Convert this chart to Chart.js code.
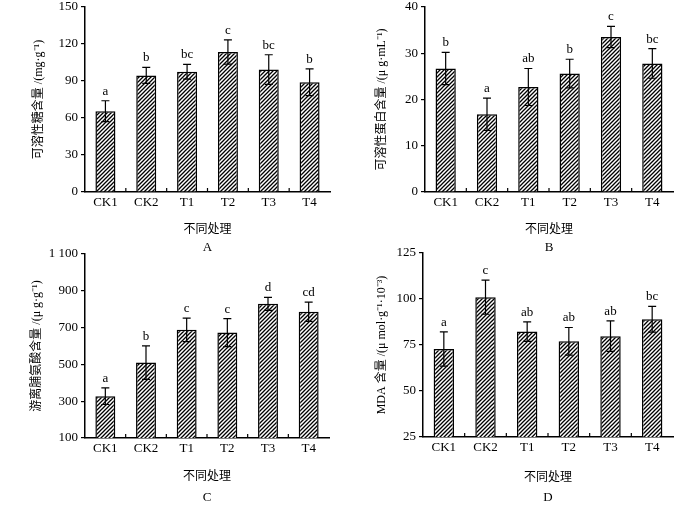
<!DOCTYPE html>
<html>
<head>
<meta charset="utf-8">
<script src="https://cdn.jsdelivr.net/npm/chart.js@4.4.1/dist/chart.umd.min.js"></script>
<style>
  body { margin: 0; background: #fff; }
  #wrap { position: relative; width: 700px; height: 505px; overflow: hidden; background: #fff; }
  canvas { position: absolute; }
</style>
</head>
<body>
<div id="wrap">
  <canvas id="chartA" width="350" height="255" style="left:0;top:0"></canvas>
  <canvas id="chartB" width="350" height="255" style="left:350px;top:0"></canvas>
  <canvas id="chartC" width="350" height="258" style="left:0;top:247px"></canvas>
  <canvas id="chartD" width="350" height="258" style="left:350px;top:247px"></canvas>
</div>
<script>
const categories = ['CK1', 'CK2', 'T1', 'T2', 'T3', 'T4'];

const sugarMean = [65.5, 94.5, 97.5, 113.5, 99.3, 89.0];
const sugarErr = [8.5, 6.5, 6.0, 9.8, 12.0, 10.8];
const sugarLetters = ['a', 'b', 'bc', 'c', 'bc', 'b'];
const sugarTicks = [0, 30, 60, 90, 120, 150];

const proteinMean = [26.7, 16.8, 22.7, 25.6, 33.5, 27.8];
const proteinErr = [3.5, 3.5, 4.0, 3.1, 2.3, 3.2];
const proteinLetters = ['b', 'a', 'ab', 'b', 'c', 'bc'];
const proteinTicks = [0, 10, 20, 30, 40];

const prolineMean = [327, 510, 688, 673, 829, 786];
const prolineErr = [45, 91, 64, 76, 35, 52];
const prolineLetters = ['a', 'b', 'c', 'c', 'd', 'cd'];
const prolineTicks = [100, 300, 500, 700, 900, 1100];

const mdaMean = [72.8, 101.0, 82.3, 77.0, 79.8, 89.0];
const mdaErr = [9.3, 9.3, 5.3, 7.5, 8.3, 7.0];
const mdaLetters = ['a', 'c', 'ab', 'ab', 'ab', 'bc'];
const mdaTicks = [25, 50, 75, 100, 125];

const SERIF = "'Liberation Serif', 'Times New Roman', serif";
const MIXED = "'Liberation Serif', 'Noto Sans CJK SC', serif";
const CJK = "'Noto Sans CJK SC', sans-serif";

function hatchPattern(ctx) {
    const c = document.createElement('canvas');
    c.width = 4;
    c.height = 4;
    const g = c.getContext('2d');
    g.fillStyle = '#fff';
    g.fillRect(0, 0, 4, 4);
    g.strokeStyle = '#000';
    g.lineWidth = 1.3;
    g.beginPath();
    g.moveTo(0, 4); g.lineTo(4, 0);
    g.moveTo(-1, 1); g.lineTo(1, -1);
    g.moveTo(3, 5); g.lineTo(5, 3);
    g.stroke();
    return ctx.createPattern(c, 'repeat');
}

// error bars, significance letters and the small inner ticks on the x axis
const errorBars = {
    id: 'errorBars',
    afterDatasetsDraw(chart, args, opts) {
        const { ctx, scales: { x, y } } = chart;
        const means = chart.data.datasets[0].data;
        const meta = chart.getDatasetMeta(0);
        ctx.save();
        ctx.strokeStyle = '#000';
        ctx.lineWidth = 1.2;
        ctx.fillStyle = '#000';
        ctx.font = '13px ' + SERIF;
        ctx.textAlign = 'center';
        ctx.textBaseline = 'bottom';
        meta.data.forEach((bar, i) => {
            const top = y.getPixelForValue(means[i] + opts.errs[i]);
            const bot = y.getPixelForValue(means[i] - opts.errs[i]);
            ctx.beginPath();
            ctx.moveTo(bar.x, top); ctx.lineTo(bar.x, bot);
            ctx.moveTo(bar.x - 4, top); ctx.lineTo(bar.x + 4, top);
            ctx.moveTo(bar.x - 4, bot); ctx.lineTo(bar.x + 4, bot);
            ctx.stroke();
            ctx.fillText(opts.letters[i], bar.x, top - 3);
        });
        ctx.beginPath();
        for (let i = 1; i < means.length; i++) {
            const px = (x.getPixelForValue(i - 1) + x.getPixelForValue(i)) / 2;
            ctx.moveTo(px, y.bottom);
            ctx.lineTo(px, y.bottom - 4);
        }
        ctx.stroke();
        ctx.restore();
    }
};

function fmt(v) {
    return String(v).replace(/(\d)(?=(\d{3})+$)/, '$1 ');
}

function makePanel(id, p) {
    const ctx = document.getElementById(id).getContext('2d');
    new Chart(ctx, {
        type: 'bar',
        data: {
            labels: categories,
            datasets: [{
                data: p.mean,
                backgroundColor: hatchPattern(ctx),
                borderColor: '#000',
                borderWidth: 1.5,
                categoryPercentage: 1,
                barPercentage: 0.49
            }]
        },
        options: {
            responsive: false,
            animation: false,
            layout: { padding: { left: 0, top: p.top, right: p.right, bottom: 0 } },
            plugins: {
                legend: { display: false },
                tooltip: { enabled: false },
                title: {
                    display: true,
                    text: p.letter,
                    position: 'bottom',
                    fullSize: false,
                    color: '#000',
                    font: { family: SERIF, size: 13, weight: 'normal' },
                    padding: 0
                },
                errorBars: { errs: p.err, letters: p.letters }
            },
            scales: {
                x: {
                    offset: true,
                    grid: { display: false, drawOnChartArea: false, drawTicks: false },
                    border: { display: true, color: '#000', width: 1.5 },
                    ticks: { color: '#000', padding: 3, font: { family: SERIF, size: 13 } },
                    title: {
                        display: true,
                        text: '不同处理',
                        color: '#000',
                        font: { family: CJK, size: 12 },
                        padding: { top: 0, bottom: p.xTitlePad }
                    },
                    afterFit(scale) {
                        scale.height = p.xHeight;
                        scale.paddingLeft = 0;
                        scale.paddingRight = 0;
                    }
                },
                y: {
                    min: p.ticks[0],
                    max: p.ticks[p.ticks.length - 1],
                    grid: { drawOnChartArea: false, drawTicks: true, tickLength: 4, color: '#000', lineWidth: 1.2 },
                    border: { display: true, color: '#000', width: 1.5 },
                    ticks: {
                        stepSize: p.ticks[1] - p.ticks[0],
                        color: '#000',
                        padding: 3,
                        font: { family: SERIF, size: 13 },
                        callback: v => fmt(v)
                    },
                    title: {
                        display: true,
                        text: p.yTitle,
                        color: '#000',
                        font: { family: MIXED, size: 12 },
                        padding: { top: p.yTitlePad, bottom: 0 }
                    },
                    afterFit(scale) {
                        scale.width = p.left;
                        scale.paddingTop = 0;
                        scale.paddingBottom = 0;
                    }
                }
            }
        },
        plugins: [errorBars]
    });
}

makePanel('chartA', {
    mean: sugarMean, err: sugarErr, letters: sugarLetters, ticks: sugarTicks,
    yTitle: '可溶性糖含量 /(mg·g⁻¹)', letter: 'A',
    left: 85, right: 20, top: 7, xHeight: 47.4, xTitlePad: 4.2, yTitlePad: 31.8
});
makePanel('chartB', {
    mean: proteinMean, err: proteinErr, letters: proteinLetters, ticks: proteinTicks,
    yTitle: '可溶性蛋白含量 /(μ g·mL⁻¹)', letter: 'B',
    left: 75, right: 27, top: 7, xHeight: 47.4, xTitlePad: 4.2, yTitlePad: 24.8
});
makePanel('chartC', {
    mean: prolineMean, err: prolineErr, letters: prolineLetters, ticks: prolineTicks,
    yTitle: '游离脯氨酸含量 /(μ g·g⁻¹)', letter: 'C',
    left: 85, right: 21, top: 7, xHeight: 51.4, xTitlePad: 7.2, yTitlePad: 29.8
});
makePanel('chartD', {
    mean: mdaMean, err: mdaErr, letters: mdaLetters, ticks: mdaTicks,
    yTitle: 'MDA 含量 /(μ mol·g⁻¹·10⁻³)', letter: 'D',
    left: 73, right: 27, top: 6, xHeight: 52.4, xTitlePad: 6.2, yTitlePad: 24.8
});
</script>
</body>
</html>
